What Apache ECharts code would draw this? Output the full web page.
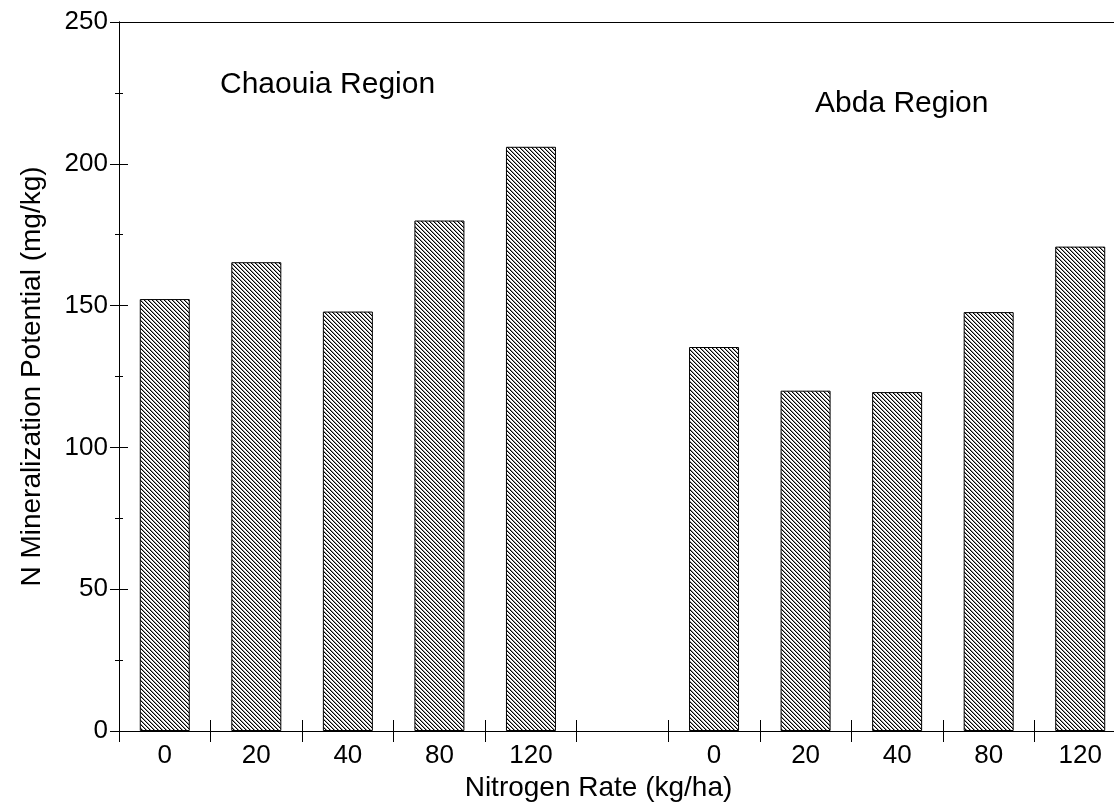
<!DOCTYPE html>
<html>
<head>
<meta charset="utf-8">
<script src="https://cdn.jsdelivr.net/npm/echarts@6/dist/echarts.min.js"></script>
<style>
  html, body { margin: 0; padding: 0; background: #fff; }
  #chart { width: 1114px; height: 812px; }
</style>
</head>
<body>
<div id="chart"></div>
<script>
// nitrogen rates (kg/ha), same for both regions
const rates = ["0", "20", "40", "80", "120"];
// N mineralization potential (mg/kg)
const chaouia = [152.3, 165.3, 147.9, 180.0, 206.0];
const abda = [135.4, 120.0, 119.5, 147.7, 170.8];
const regions = ["Chaouia Region", "Abda Region"];
const yMin = 0, yMax = 250, yStep = 50;

// one empty slot between the two groups
const categories = rates.concat([""], rates);
const values = chaouia.concat(["-"], abda);

function hatch() {
  let c = document.createElement("canvas");
  c.width = 4;
  c.height = 4;
  let ctx = c.getContext("2d");
  ctx.fillStyle = "#fff";
  ctx.fillRect(0, 0, 4, 4);
  for (let i = 0; i < 4; i++) {
    ctx.fillStyle = "#000";
    ctx.fillRect(i, i, 1, 1);
    ctx.fillStyle = "#999";
    ctx.fillRect((i + 1) % 4, i, 1, 1);
  }
  return c;
}

const font = "'Liberation Sans', Arial, sans-serif";
let myChart = echarts.init(document.getElementById("chart"));

let option = {
  backgroundColor: "#fff",
  grid: {
    left: 119,
    right: -12,
    top: 22,
    bottom: 81,
    outerBoundsMode: "none",
  },
  xAxis: [
    {
      type: "category",
      data: categories,
      position: "bottom",
      axisLine: { show: true, lineStyle: { color: "#000", width: 1 } },
      axisTick: { show: true, length: 11, lineStyle: { color: "#000" } },
      axisLabel: { color: "#000", fontSize: 26, fontFamily: font, margin: 12, interval: 0 },
      name: "Nitrogen Rate (kg/ha)",
      nameLocation: "middle",
      nameGap: 42,
      nameTextStyle: { color: "#000", fontSize: 28, fontFamily: font, padding: [0, 48, 0, 0] },
    },
    {
      // inner half of the crossing ticks
      type: "category",
      data: categories,
      position: "bottom",
      axisLine: { show: true, lineStyle: { color: "#000", width: 1 } },
      axisTick: { show: true, inside: true, length: 11, lineStyle: { color: "#000" } },
      axisLabel: { show: true, interval: 0, color: "rgba(0,0,0,0)", fontSize: 26, margin: 12 },
    },
  ],
  yAxis: [
    {
      type: "value",
      min: yMin,
      max: yMax,
      interval: yStep,
      axisLine: { show: true, lineStyle: { color: "#000", width: 1 } },
      axisTick: { show: true, length: 9, lineStyle: { color: "#000" } },
      minorTick: { show: true, splitNumber: 2, length: 4, lineStyle: { color: "#000" } },
      splitLine: { show: false },
      axisLabel: { color: "#000", fontSize: 26, fontFamily: font, margin: 11 },
      name: "N Mineralization Potential (mg/kg)",
      nameLocation: "middle",
      nameGap: 73,
      nameTextStyle: { color: "#000", fontSize: 28, fontFamily: font },
    },
    {
      type: "value",
      min: yMin,
      max: yMax,
      interval: yStep,
      position: "left",
      axisLine: { show: true, lineStyle: { color: "#000", width: 1 } },
      axisTick: { show: true, inside: true, length: 9, lineStyle: { color: "#000" } },
      minorTick: { show: true, splitNumber: 2, length: 4, lineStyle: { color: "#000" } },
      splitLine: { show: false },
      axisLabel: { show: true, color: "rgba(0,0,0,0)", fontSize: 26, margin: 11 },
    },
  ],
  graphic: [
    {
      type: "text",
      left: 220,
      top: 70,
      style: { text: regions[0], fill: "#000", font: "30px " + font },
    },
    {
      type: "text",
      left: 815,
      top: 89,
      style: { text: regions[1], fill: "#000", font: "30px " + font },
    },
  ],
  series: [
    {
      type: "bar",
      data: values,
      barWidth: 50,
      itemStyle: {
        color: { image: hatch(), repeat: "repeat" },
        borderColor: "#000",
        borderWidth: 1,
      },
      // frame line along the top of the plot
      markLine: {
        silent: true,
        symbol: ["none", "none"],
        label: { show: false },
        lineStyle: { color: "#000", type: "solid", width: 1 },
        data: [{ yAxis: yMax }],
      },
    },
    {
      // invisible, only keeps the second pair of axes alive for the inner ticks
      type: "line",
      xAxisIndex: 1,
      yAxisIndex: 1,
      data: values,
      symbol: "none",
      silent: true,
      lineStyle: { opacity: 0 },
    },
  ],
};

myChart.setOption(option);
window.addEventListener("resize", function () {
  myChart.resize();
});
</script>
</body>
</html>
